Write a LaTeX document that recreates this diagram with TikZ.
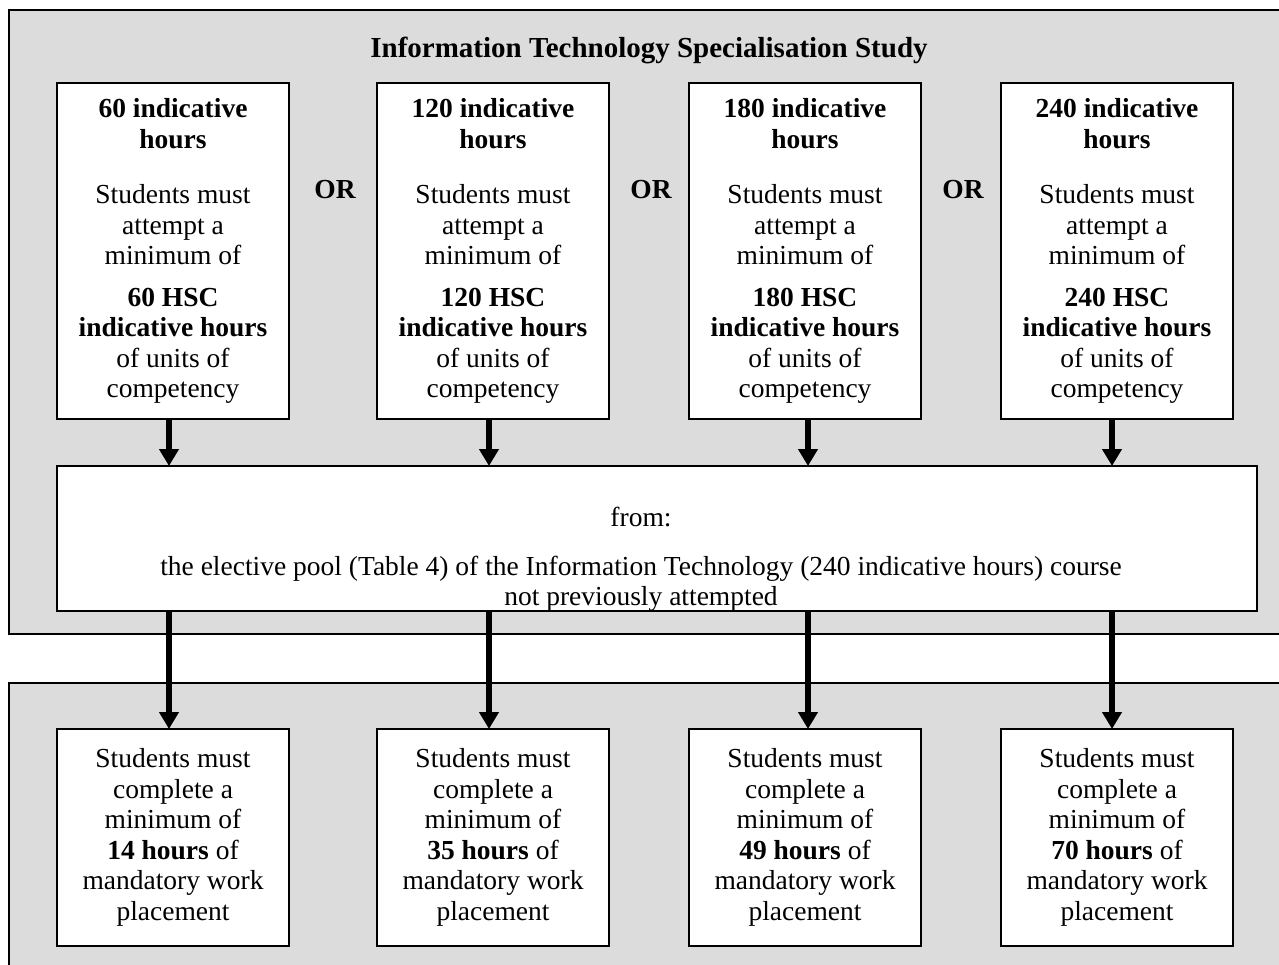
\documentclass[tikz,border=0pt]{standalone}
\usepackage{fontspec}
\setmainfont{Liberation Serif}
\usetikzlibrary{arrows.meta}
\definecolor{panel}{RGB}{220,220,220}
\tikzset{
  panelbox/.style={draw=black, line width=2pt, fill=panel},
  hourbox/.style={draw=black, line width=2pt, fill=white, minimum width=232pt, inner sep=0pt, align=center},
  txt/.style={inner sep=0pt, align=center, font=\fontsize{27.5}{30.5}\selectfont},
  heading/.style={inner sep=0pt, align=center, font=\fontsize{29}{30.5}\selectfont\bfseries},
  flow/.style={line width=6pt, -{Triangle[width=19pt,length=17pt]}, shorten >=-1pt},
}
\begin{document}
\begin{tikzpicture}[x=1pt, y=-1pt]
\clip (0,0) rectangle (1279,965);
\fill[white] (0,0) rectangle (1279,965);

% background panels
\draw[panelbox] (9,10) rectangle (1300,634);
\draw[panelbox] (9,683) rectangle (1300,1000);

\node[heading] (title) at (649,50) {Information Technology Specialisation Study};

% upper row: specialisation options
\node[hourbox, minimum height=336pt] (t1) at (173,251) {};
\node[hourbox, minimum height=336pt] (t2) at (493,251) {};
\node[hourbox, minimum height=336pt] (t3) at (805,251) {};
\node[hourbox, minimum height=336pt] (t4) at (1117,251) {};

\node[txt] (tt1) at (t1) {\textbf{60 indicative}\\\textbf{hours}\\[25pt]Students must\\attempt a\\minimum of\\[11pt]\textbf{60 HSC}\\\textbf{indicative hours}\\of units of\\competency};
\node[txt] (tt2) at (t2) {\textbf{120 indicative}\\\textbf{hours}\\[25pt]Students must\\attempt a\\minimum of\\[11pt]\textbf{120 HSC}\\\textbf{indicative hours}\\of units of\\competency};
\node[txt] (tt3) at (t3) {\textbf{180 indicative}\\\textbf{hours}\\[25pt]Students must\\attempt a\\minimum of\\[11pt]\textbf{180 HSC}\\\textbf{indicative hours}\\of units of\\competency};
\node[txt] (tt4) at (t4) {\textbf{240 indicative}\\\textbf{hours}\\[25pt]Students must\\attempt a\\minimum of\\[11pt]\textbf{240 HSC}\\\textbf{indicative hours}\\of units of\\competency};

\node[heading, font=\fontsize{27.5}{30.5}\selectfont\bfseries] (or1) at (335,190) {OR};
\node[heading, font=\fontsize{27.5}{30.5}\selectfont\bfseries] (or2) at (651,190) {OR};
\node[heading, font=\fontsize{27.5}{30.5}\selectfont\bfseries] (or3) at (963,190) {OR};

% elective pool
\node[hourbox, minimum width=1200pt, minimum height=145pt] (pool) at (657,538.5) {};
\node[txt] (pooltxt) at (641,559.5) {from:\\[18pt]the elective pool (Table 4) of the Information Technology (240 indicative hours) course\\not previously attempted};

% lower row: work placement
\node[hourbox, minimum height=217pt] (b1) at (173,837.5) {};
\node[hourbox, minimum height=217pt] (b2) at (493,837.5) {};
\node[hourbox, minimum height=217pt] (b3) at (805,837.5) {};
\node[hourbox, minimum height=217pt] (b4) at (1117,837.5) {};

\node[txt] (bt1) at (b1) {Students must\\complete a\\minimum of\\\textbf{14 hours} of\\mandatory work\\placement};
\node[txt] (bt2) at (b2) {Students must\\complete a\\minimum of\\\textbf{35 hours} of\\mandatory work\\placement};
\node[txt] (bt3) at (b3) {Students must\\complete a\\minimum of\\\textbf{49 hours} of\\mandatory work\\placement};
\node[txt] (bt4) at (b4) {Students must\\complete a\\minimum of\\\textbf{70 hours} of\\mandatory work\\placement};

% connectors
\draw[flow] ([xshift=-4pt]t1.south) -- ([xshift=-4pt]t1.south |- pool.north);
\draw[flow] ([xshift=-4pt]t2.south) -- ([xshift=-4pt]t2.south |- pool.north);
\draw[flow] ([xshift=3pt]t3.south) -- ([xshift=3pt]t3.south |- pool.north);
\draw[flow] ([xshift=-5pt]t4.south) -- ([xshift=-5pt]t4.south |- pool.north);

\draw[flow] ([xshift=-4pt]t1.south |- pool.south) -- ([xshift=-4pt]b1.north);
\draw[flow] ([xshift=-4pt]t2.south |- pool.south) -- ([xshift=-4pt]b2.north);
\draw[flow] ([xshift=3pt]t3.south |- pool.south) -- ([xshift=3pt]b3.north);
\draw[flow] ([xshift=-5pt]t4.south |- pool.south) -- ([xshift=-5pt]b4.north);
\end{tikzpicture}
\end{document}
